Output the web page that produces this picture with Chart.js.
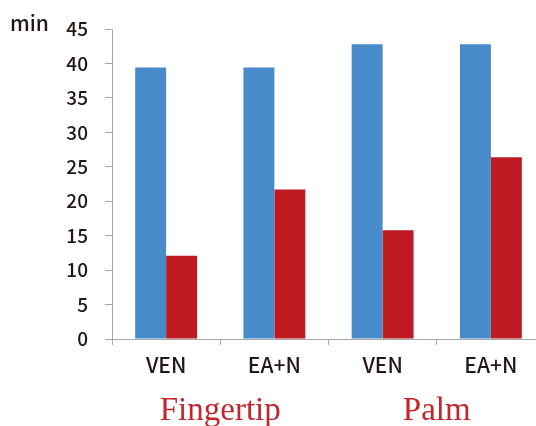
<!DOCTYPE html>
<html lang="en">

<head>
    <meta charset="UTF-8">
    <title>Bar chart</title>
    <script src="https://cdn.jsdelivr.net/npm/chart.js"></script>
    <style>
        html, body {
            margin: 0;
            padding: 0;
            background: #fff;
            overflow: hidden;
        }
    </style>
</head>

<body>
    <canvas id="chart" width="560" height="426"></canvas>

    <script>
        // Daten
        var categories = ['VEN', 'EA+N', 'VEN', 'EA+N'];
        var groups = ['Fingertip', 'Palm'];
        var blueValues = [39.4, 39.4, 42.8, 42.8];
        var redValues = [12.1, 21.7, 15.8, 26.4];
        var yTicks = [0, 5, 10, 15, 20, 25, 30, 35, 40, 45];

        var axisColor = '#a6a6a6';
        var fontFamily = '"Noto Sans CJK SC", "Noto Sans", sans-serif';

        // "min" und Gruppenbeschriftung
        var labelsPlugin = {
            id: 'extraLabels',
            afterDraw: function (chart) {
                var ctx = chart.ctx;
                var x = chart.scales.x;
                ctx.save();
                ctx.fillStyle = '#231815';
                ctx.font = '500 21px ' + fontFamily;
                ctx.textAlign = 'left';
                ctx.textBaseline = 'alphabetic';
                ctx.fillText('min', 10, 31);

                ctx.fillStyle = '#c1272d';
                ctx.font = '33px "Liberation Serif", "Times New Roman", serif';
                ctx.textAlign = 'center';
                groups.forEach(function (g, i) {
                    var cx = (x.getPixelForValue(i * 2) + x.getPixelForValue(i * 2 + 1)) / 2;
                    ctx.fillText(g, cx, 420);
                });
                ctx.restore();
            }
        };

        var ctx = document.getElementById('chart').getContext('2d');
        var chart = new Chart(ctx, {
            type: 'bar',
            data: {
                labels: categories,
                datasets: [{
                    label: 'Blue',
                    data: blueValues,
                    backgroundColor: '#488bcb'
                }, {
                    label: 'Red',
                    data: redValues,
                    backgroundColor: '#bf1a21'
                }]
            },
            options: {
                responsive: false,
                animation: false,
                layout: {
                    padding: { top: 29, right: 15, left: 0, bottom: 0 }
                },
                datasets: {
                    bar: {
                        barPercentage: 1,
                        categoryPercentage: 0.572
                    }
                },
                plugins: {
                    legend: { display: false },
                    tooltip: { enabled: false }
                },
                scales: {
                    x: {
                        offset: true,
                        grid: {
                            offset: true,
                            drawOnChartArea: false,
                            drawTicks: true,
                            tickLength: 6,
                            color: axisColor
                        },
                        border: { color: axisColor },
                        ticks: {
                            color: '#231815',
                            font: { family: fontFamily, size: 21, weight: '500' },
                            padding: 7,
                            maxRotation: 0
                        },
                        afterFit: function (scale) {
                            scale.height = 87;
                        }
                    },
                    y: {
                        min: 0,
                        max: 45,
                        afterBuildTicks: function (scale) {
                            scale.ticks = yTicks.map(function (v) { return { value: v }; });
                        },
                        grid: {
                            drawOnChartArea: false,
                            drawTicks: true,
                            tickLength: 7,
                            color: axisColor
                        },
                        border: { color: axisColor },
                        ticks: {
                            color: '#231815',
                            font: { family: fontFamily, size: 19, weight: '500' },
                            padding: 17
                        },
                        afterFit: function (scale) {
                            scale.width = 112;
                        }
                    }
                }
            },
            plugins: [labelsPlugin]
        });
    </script>
</body>

</html>
